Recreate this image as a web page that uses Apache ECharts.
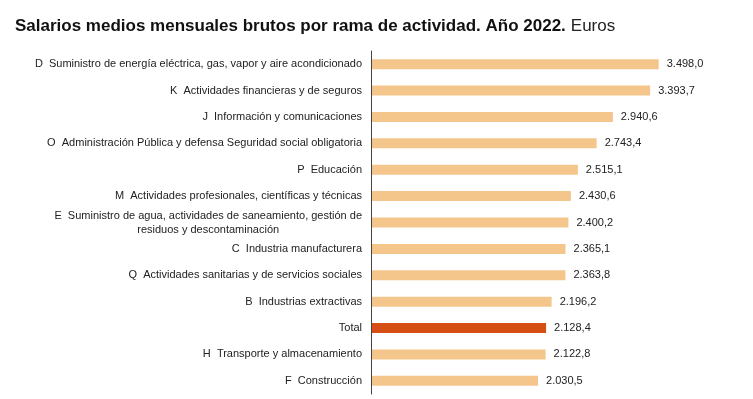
<!DOCTYPE html>
<html lang="es">
<head>
    <meta charset="UTF-8">
    <title>Salarios medios mensuales brutos por rama de actividad</title>
    <script src="https://cdn.jsdelivr.net/npm/echarts@6/dist/echarts.min.js"></script>
    <style>
        html, body { margin: 0; padding: 0; background: #fff; }
        #main { width: 753px; height: 399px; }
    </style>
</head>
<body>
    <div id="main"></div>
    <script>
        // ramas de actividad (de mayor a menor)
        var categories = [
            'D  Suministro de energía eléctrica, gas, vapor y aire acondicionado',
            'K  Actividades financieras y de seguros',
            'J  Información y comunicaciones',
            'O  Administración Pública y defensa Seguridad social obligatoria',
            'P  Educación',
            'M  Actividades profesionales, científicas y técnicas',
            'E  Suministro de agua, actividades de saneamiento, gestión de\nresiduos y descontaminación',
            'C  Industria manufacturera',
            'Q  Actividades sanitarias y de servicios sociales',
            'B  Industrias extractivas',
            'Total',
            'H  Transporte y almacenamiento',
            'F  Construcción'
        ];
        var salarios = [3498.0, 3393.7, 2940.6, 2743.4, 2515.1, 2430.6, 2400.2, 2365.1, 2363.8, 2196.2, 2128.4, 2122.8, 2030.5];
        var highlight = 'Total';

        // 3.498,0
        function fmt(v) {
            var parts = v.toFixed(1).split('.');
            return parts[0].replace(/\B(?=(\d{3})+(?!\d))/g, '.') + ',' + parts[1];
        }

        var myChart = echarts.init(document.getElementById('main'));
        var option = {
            animation: false,
            textStyle: { fontFamily: 'Liberation Sans, Arial, sans-serif' },
            title: {
                text: '{b|Salarios medios mensuales brutos por rama de actividad. Año 2022.} {n|Euros}',
                left: 10,
                top: 12,
                textStyle: {
                    rich: {
                        b: { fontSize: 17, fontWeight: 'bold', color: '#111', fontFamily: 'Liberation Sans' },
                        n: { fontSize: 17, fontWeight: 'normal', color: '#222', fontFamily: 'Liberation Sans' }
                    }
                }
            },
            grid: { left: 371, right: 53, top: 51, bottom: 5 },
            xAxis: {
                type: 'value',
                min: 0,
                max: 4000,
                show: false
            },
            yAxis: {
                type: 'category',
                inverse: true,
                z: 5,
                data: categories,
                axisLine: { lineStyle: { color: '#444', width: 1 } },
                axisTick: { show: false },
                axisLabel: {
                    margin: 9,
                    color: '#222',
                    fontSize: 11,
                    lineHeight: 14,
                    formatter: function (v) {
                        return v.split('\n').map(function (s) { return '{c|' + s + '}'; }).join('\n');
                    },
                    rich: {
                        c: { align: 'center', fontSize: 11, color: '#222', lineHeight: 14 }
                    }
                }
            },
            series: [{
                type: 'bar',
                barWidth: 10,
                data: salarios.map(function (v, i) {
                    return {
                        value: v,
                        itemStyle: { color: categories[i] === highlight ? '#D54F14' : '#F4C68C' }
                    };
                }),
                label: {
                    show: true,
                    position: 'right',
                    distance: 8,
                    fontSize: 11,
                    color: '#222',
                    formatter: function (p) { return fmt(p.value); }
                }
            }]
        };
        myChart.setOption(option);
    </script>
</body>
</html>
